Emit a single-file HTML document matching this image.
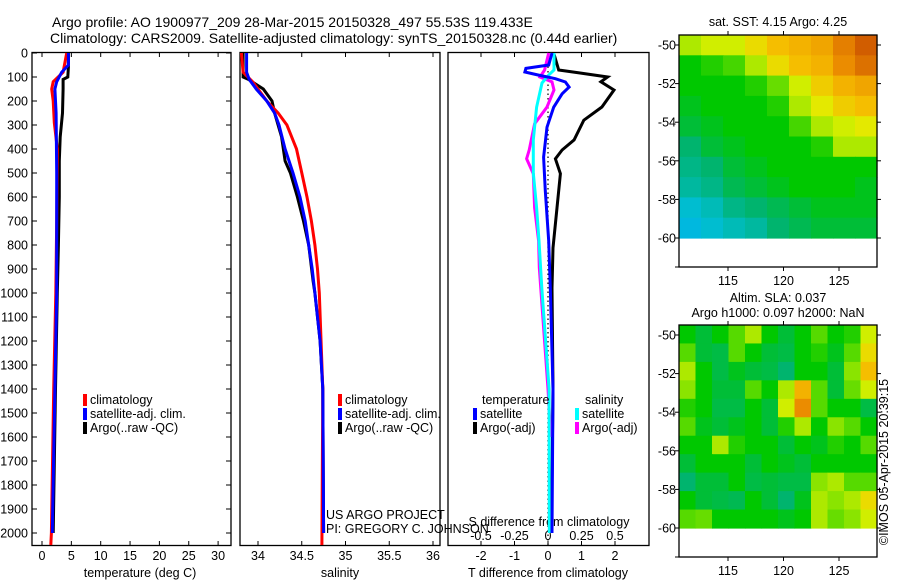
<!DOCTYPE html>
<html><head><meta charset="utf-8"><style>
html,body{margin:0;padding:0;background:#fff;}
svg{display:block;font-family:"Liberation Sans",sans-serif;}
text{fill:#000;}
</style></head><body>
<svg id="fig" width="900" height="580" viewBox="0 0 900 580">
<text x="52" y="27" font-size="14">Argo profile: AO 1900977_209 28-Mar-2015 20150328_497 55.53S 119.433E</text>
<text x="50" y="43" font-size="14">Climatology: CARS2009. Satellite-adjusted climatology: synTS_20150328.nc (0.44d earlier)</text>
<g id="plots"></g>
</svg>
<script>
// ---- profile data ----
const tArgoD=[0,60,100,110,150,250,350,450,600,800,1000,1400,2000];
const tArgoV=[4.5,4.5,4.4,3.6,3.6,3.5,3.1,2.95,2.95,2.8,2.6,2.3,1.9];
const tClimD=[0,80,120,150,200,290,400,700,1000,1400,2000,2050];
const tClimV=[4.2,3.6,1.9,1.65,1.9,2.1,2.6,2.5,2.35,2.0,1.6,1.5];
const tSatD=[0,50,80,120,150,250,500,1000,1400,2000];
const tSatV=[4.5,4.5,3.35,2.5,2.2,2.4,2.5,2.5,2.2,1.75];

const sArgoD=[0,100,110,150,200,250,350,450,500,600,700,800,950,1000,1200,1400,2000];
const sArgoV=[33.83,33.83,33.89,34.06,34.16,34.19,34.27,34.31,34.37,34.45,34.52,34.58,34.63,34.65,34.71,34.74,34.75];
const sClimD=[0,80,120,200,250,300,400,500,600,700,800,900,1000,1400,2050];
const sClimV=[33.81,33.83,33.94,34.10,34.23,34.33,34.44,34.50,34.56,34.61,34.65,34.68,34.70,34.74,34.73];
const sSatD=[0,80,110,150,200,250,300,400,500,600,700,800,900,1000,1200,1400,2000];
const sSatV=[33.87,33.87,33.90,33.98,34.10,34.19,34.24,34.31,34.40,34.48,34.54,34.58,34.62,34.65,34.71,34.74,34.75];

const dTArgoD=[0,71,83,100,120,154,225,280,362,404,441,503,645,812,979,1400,2000];
const dTArgoV=[0.17,0.32,0.93,1.78,1.58,1.97,1.61,1.07,0.78,0.42,0.22,0.37,0.27,0.15,0.12,0.15,0.1];
const dTSatD=[0,50,64,79,92,107,121,142,170,226,309,434,574,783,979,1400,2000];
const dTSatV=[0.12,0.02,-0.66,-0.69,-0.28,0.22,0.52,0.63,0.42,0.17,-0.03,-0.13,-0.08,0.02,0.07,0.15,0.12];
const dSSatD=[0,71,92,125,226,362,500,645,783,979,1400,2000];
const dSSatV=[0.045,0.045,0.005,-0.045,-0.085,-0.11,-0.11,-0.085,-0.067,-0.046,0.008,0.01];
const dSArgoD=[0,71,100,120,154,226,295,404,441,503,645,783,895,1400,1600];
const dSArgoV=[0.005,-0.025,-0.06,0.03,0.045,-0.008,-0.1,-0.14,-0.16,-0.11,-0.1,-0.07,-0.065,0.0,0.02];

const depthTicks=[0,100,200,300,400,500,600,700,800,900,1000,1100,1200,1300,1400,1500,1600,1700,1800,1900,2000];
const tTicks=[0,5,10,15,20,25,30];
const sTicks=[34,34.5,35,35.5,36];
const sTickLabels=["34","34.5","35","35.5","36"];
const dtTicks=[-2,-1,0,1,2];
const dsTicks=[-0.5,-0.25,0,0.25,0.5];
const dsTickLabels=["-0.5","-0.25","0","0.25","0.5"];

// ---- map data (colour index 0..1) ----
const sstGrid=[
[0.6,0.62,0.62,0.66,0.7,0.72,0.74,0.8,0.85],
[0.5,0.52,0.54,0.6,0.66,0.7,0.72,0.78,0.82],
[0.5,0.5,0.5,0.52,0.56,0.62,0.68,0.72,0.74],
[0.48,0.5,0.5,0.5,0.52,0.6,0.64,0.68,0.7],
[0.46,0.48,0.5,0.5,0.5,0.54,0.6,0.62,0.64],
[0.42,0.46,0.48,0.5,0.5,0.5,0.52,0.6,0.6],
[0.4,0.42,0.46,0.48,0.5,0.5,0.5,0.5,0.5],
[0.38,0.4,0.44,0.46,0.48,0.5,0.5,0.5,0.48],
[0.34,0.36,0.4,0.42,0.44,0.46,0.48,0.48,0.48],
[0.32,0.34,0.36,0.38,0.42,0.44,0.46,0.46,0.46]];
const slaGrid=[
[0.5,0.46,0.5,0.55,0.6,0.5,0.46,0.5,0.55,0.5,0.52,0.62],
[0.55,0.46,0.45,0.55,0.5,0.46,0.45,0.5,0.52,0.48,0.55,0.66],
[0.6,0.5,0.45,0.48,0.46,0.45,0.42,0.5,0.5,0.46,0.58,0.7],
[0.58,0.5,0.46,0.46,0.55,0.5,0.6,0.72,0.55,0.46,0.56,0.62],
[0.52,0.5,0.45,0.45,0.5,0.46,0.62,0.78,0.55,0.5,0.5,0.45],
[0.55,0.48,0.46,0.48,0.5,0.46,0.52,0.6,0.5,0.58,0.55,0.5],
[0.5,0.5,0.6,0.52,0.5,0.5,0.46,0.5,0.48,0.52,0.5,0.55],
[0.46,0.5,0.5,0.5,0.46,0.5,0.48,0.46,0.5,0.5,0.5,0.5],
[0.42,0.46,0.46,0.5,0.45,0.46,0.45,0.45,0.58,0.6,0.55,0.55],
[0.5,0.46,0.45,0.44,0.5,0.46,0.42,0.48,0.6,0.58,0.6,0.66],
[0.55,0.56,0.5,0.5,0.5,0.5,0.48,0.5,0.6,0.56,0.58,0.62]];
const latTicks=[-50,-52,-54,-56,-58,-60];
const lonTicks=[115,120,125];

const NS='http://www.w3.org/2000/svg';
const root=document.getElementById('plots');
function mk(tag,attrs,parent){const e=document.createElementNS(NS,tag);for(const k in attrs)e.setAttribute(k,attrs[k]);(parent||root).appendChild(e);return e;}
function txt(x,y,s,size,anchor,name,parent){const t=mk('text',{x:x,y:y,'font-size':size,'text-anchor':anchor||'start'},parent);t.textContent=s;


return t;}

const Y=d=>53+d*0.24;
function panel(x0,x1,name){const r=mk('rect',{x:x0,y:52.5,width:x1-x0,height:493,fill:'none',stroke:'#000','stroke-width':1.3});

}
function line(D,V,sx,color,name,w,dash){const pts=D.map((d,i)=>sx(V[i]).toFixed(1)+','+Y(d).toFixed(1)).join(' ');
const p=mk('polyline',{points:pts,fill:'none',stroke:color,'stroke-width':w||3,'stroke-linejoin':'miter'});
if(dash)p.setAttribute('stroke-dasharray',dash);

}
function xticks(ticks,labels,sx,ly,name,top){ticks.forEach((t,i)=>{const x=sx(t);
mk('line',{x1:x,y1:545.5,x2:x,y2:541,stroke:'#000'});
if(top)mk('line',{x1:x,y1:52.5,x2:x,y2:57,stroke:'#000'});
txt(x,ly,labels[i],12.5,'middle',name);});}
function legend(x,y,color,label,name){const r=mk('rect',{x:x,y:y-10,width:4,height:12,fill:color});


txt(x+7,y,label,12.5,'start',name);}

// Panel 1: temperature
const sxT=v=>42+v*5.87;
panel(32,231,'temperature-panel');
depthTicks.forEach(d=>{mk('line',{x1:32,y1:Y(d),x2:37,y2:Y(d),stroke:'#000'});mk('line',{x1:231,y1:Y(d),x2:226,y2:Y(d),stroke:'#000'});txt(28,Y(d)+4.5,String(d),12.5,'end','depth-tick-label');});
xticks(tTicks,tTicks.map(String),sxT,560,'temperature-tick-label',true);
txt(140,577,'temperature (deg C)',12.5,'middle','temperature-axis-title');
line(tArgoD,tArgoV,sxT,'#000','temp-argo-line');
line(tClimD,tClimV,sxT,'#f00','temp-climatology-line');
line(tSatD,tSatV,sxT,'#00f','temp-satellite-line');
legend(83,404,'#f00','climatology','temp-legend-climatology');
legend(83,418,'#00f','satellite-adj. clim.','temp-legend-satellite');
legend(83,432,'#000','Argo(..raw -QC)','temp-legend-argo');

// Panel 2: salinity
const sxS=v=>258+(v-34)*87.5;
panel(240,440,'salinity-panel');
xticks(sTicks,sTickLabels,sxS,560,'salinity-tick-label',true);
txt(340,577,'salinity',12.5,'middle','salinity-axis-title');
line(sArgoD,sArgoV,sxS,'#000','sal-argo-line');
line(sClimD,sClimV,sxS,'#f00','sal-climatology-line');
line(sSatD,sSatV,sxS,'#00f','sal-satellite-line');
legend(338,404,'#f00','climatology','sal-legend-climatology');
legend(338,418,'#00f','satellite-adj. clim.','sal-legend-satellite');
legend(338,432,'#000','Argo(..raw -QC)','sal-legend-argo');
txt(326,519,'US ARGO PROJECT',12.5,'start','project-label');
txt(326,533,'PI: GREGORY C. JOHNSON',12.5,'start','pi-label');

// Panel 3: differences
const sxD=v=>548+v*33.5;
const sxDS=v=>548+v*134;
panel(448,649,'difference-panel');
xticks(dtTicks,dtTicks.map(String),sxD,560,'t-diff-tick-label',true);
dsTicks.forEach((t,i)=>{txt(sxDS(t),540,dsTickLabels[i],12.5,'middle','s-diff-tick-label');});
txt(549,526,'S difference from climatology',12.5,'middle','s-diff-axis-title');
txt(548,577,'T difference from climatology',12.5,'middle','t-diff-axis-title');
line([0,2050],[0,0],sxD,'#000','zero-line',1.2,'1.5,3');
line(dTArgoD,dTArgoV,sxD,'#000','tdiff-argo-line');
line(dSArgoD,dSArgoV,sxDS,'#f0f','sdiff-argo-line');
line(dSSatD,dSSatV,sxDS,'#0ff','sdiff-satellite-line');
line(dTSatD,dTSatV,sxD,'#00f','tdiff-satellite-line');
txt(482,404,'temperature',12.5,'start','legend-temperature-header');
txt(585,404,'salinity',12.5,'start','legend-salinity-header');
legend(473,418,'#00f','satellite','tdiff-legend-satellite');
legend(473,432,'#000','Argo(-adj)','tdiff-legend-argo');
legend(575,418,'#0ff','satellite','sdiff-legend-satellite');
legend(575,432,'#f0f','Argo(-adj)','sdiff-legend-argo');

// colormap matching the reference palette
const cmapStops=[[0,[0,0,192]],[0.2,[0,110,255]],[0.33,[0,190,220]],[0.42,[0,180,110]],[0.5,[0,200,0]],[0.57,[120,225,0]],[0.63,[225,240,0]],[0.7,[245,190,0]],[0.78,[235,140,0]],[0.9,[190,60,0]],[1,[150,20,0]]];
function cmap(v){v=Math.max(0,Math.min(1,v));
for(let i=1;i<cmapStops.length;i++){const [a,ca]=cmapStops[i-1],[b,cb]=cmapStops[i];
if(v<=b){const f=(v-a)/(b-a);return 'rgb('+ca.map((c,k)=>Math.round(c+(cb[k]-c)*f)).join(',')+')';}}
return 'rgb(150,20,0)';}

function map(grid,top,name){
const x0=679,x1=877,lat50=top+10,ppd=19.3,bottom=top+232;
const sxL=lon=>728+(lon-115)*11.1;
const syL=lat=>lat50+(-50-lat)*ppd;
const g=mk('g',{});


const rows=grid.length,cols=grid[0].length;
const cw=(x1-x0)/cols, rh=(syL(-60)-top)/rows;
grid.forEach((row,i)=>row.forEach((v,j)=>{const r=mk('rect',{x:(x0+j*cw).toFixed(2),y:(top+i*rh).toFixed(2),width:(cw+0.6).toFixed(2),height:(rh+0.6).toFixed(2),fill:cmap(v)},g);

}));
const fr=mk('rect',{x:x0,y:top,width:x1-x0,height:bottom-top,fill:'none',stroke:'#000','stroke-width':1.3},g);


latTicks.forEach(l=>{const y=syL(l);mk('line',{x1:x0,y1:y,x2:x0-4,y2:y,stroke:'#000'},g);mk('line',{x1:x1,y1:y,x2:x1+4,y2:y,stroke:'#000'},g);txt(x0-3,y+4.5,String(l),12.5,'end',name+'-lat-label',g);});
mk('line',{x1:x0,y1:bottom,x2:x0-4,y2:bottom,stroke:'#000'},g);
lonTicks.forEach(l=>{const x=sxL(l);mk('line',{x1:x,y1:top,x2:x,y2:top-4,stroke:'#000'},g);mk('line',{x1:x,y1:bottom,x2:x,y2:bottom+4,stroke:'#000'},g);txt(x,bottom+18,String(l),12.5,'middle',name+'-lon-label',g);});
}
map(sstGrid,35,'sst-map');
map(slaGrid,325,'sla-map');
txt(778,26,'sat. SST: 4.15 Argo: 4.25',12.5,'middle','sst-map-title');
txt(778,302,'Altim. SLA: 0.037',12.5,'middle','sla-map-title');
txt(778,317,'Argo h1000: 0.097 h2000: NaN',12.5,'middle','sla-map-subtitle');
const rt=txt(0,0,'©IMOS 05-Apr-2015 20:39:15',12.5,'middle','imos-credit');
rt.setAttribute('transform','translate(888,462) rotate(-90)');
</script>
</body></html>
